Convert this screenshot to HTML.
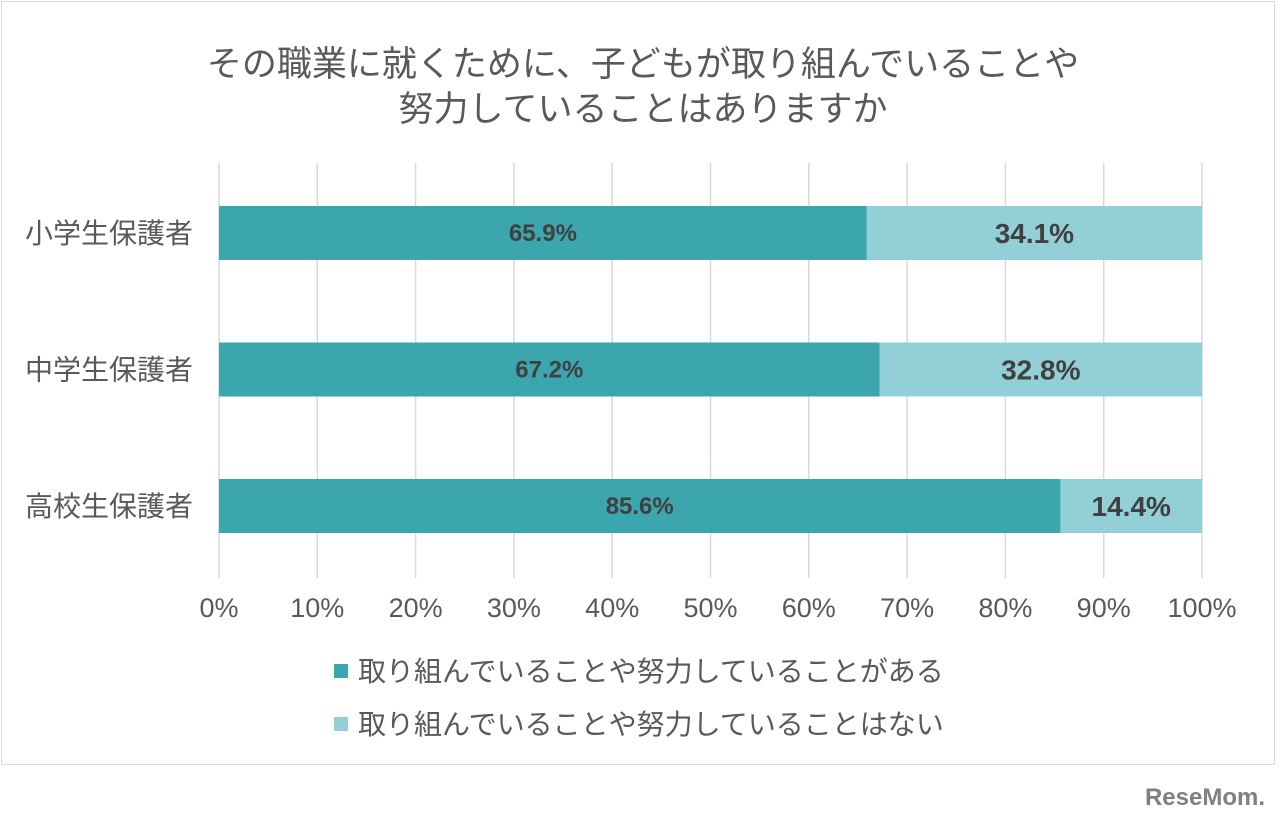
<!DOCTYPE html>
<html><head><meta charset="utf-8"><style>
body{margin:0;width:1280px;height:820px;background:#fff;font-family:"Liberation Sans","Noto Sans CJK JP",sans-serif;overflow:hidden;position:relative}
#frame{position:absolute;left:1px;top:1px;width:1274px;height:764px;border:1px solid #d9d9d9;box-sizing:border-box}
</style></head><body>
<div id="frame"></div>
<svg id="chart" width="1280" height="820" style="position:absolute;left:0;top:0">
<text x="643" y="76" text-anchor="middle" font-size="35" fill="#595959">その職業に就くために、子どもが取り組んでいることや</text>
<text x="643" y="121" text-anchor="middle" font-size="35" fill="#595959">努力していることはありますか</text>
<g id="grid"></g><g id="bars"></g><g id="axis"></g>
<rect x="334" y="664" width="14" height="14" fill="#3ba6ae"/>
<text x="358" y="681" font-size="28" fill="#595959">取り組んでいることや努力していることがある</text>
<rect x="334" y="717" width="14" height="14" fill="#92cfd6"/>
<text x="358" y="734" font-size="28" fill="#595959">取り組んでいることや努力していることはない</text>
<text x="1265" y="805" text-anchor="end" font-size="24" font-weight="bold" fill="#808080">ReseMom.</text>
</svg>
<script>
const categories=["小学生保護者","中学生保護者","高校生保護者"];
const yesValues=[65.9,67.2,85.6];
const noValues=[34.1,32.8,14.4];
const ticks=[0,10,20,30,40,50,60,70,80,90,100];
const NS="http://www.w3.org/2000/svg";
const x0=219,x1=1202;
const xs=v=>x0+(x1-x0)*v/100;
const yc=i=>233+i*136.5;
function mk(tag,attrs,parent,text){const e=document.createElementNS(NS,tag);for(const k in attrs)e.setAttribute(k,attrs[k]);if(text!==undefined)e.textContent=text;document.getElementById(parent).appendChild(e);return e;}
ticks.forEach(t=>{
 const l=mk('line',{x1:xs(t),x2:xs(t),y1:163,y2:578,stroke:'#d9d9d9','stroke-width':1.5},'grid');
 
 
 const tx=mk('text',{x:xs(t),y:617,'text-anchor':'middle','font-size':27,fill:'#595959'},'axis',t+'%');
 
 
});
categories.forEach((c,i)=>{
 const y=yc(i);
 const cl=mk('text',{x:193,y:y+10,'text-anchor':'end','font-size':28,fill:'#595959'},'axis',c);
 
 
 const a=mk('rect',{x:xs(0),y:y-27,width:xs(yesValues[i])-xs(0),height:54,fill:'#3ba6ae'},'bars');
 
 
 const b=mk('rect',{x:xs(yesValues[i]),y:y-27,width:xs(yesValues[i]+noValues[i])-xs(yesValues[i]),height:54,fill:'#92cfd6'},'bars');
 
 
 const la=mk('text',{x:(xs(0)+xs(yesValues[i]))/2,y:y+8,'text-anchor':'middle','font-size':24,'font-weight':'bold',fill:'#404040'},'bars',yesValues[i].toFixed(1)+'%');
 
 
 const lb=mk('text',{x:(xs(yesValues[i])+xs(yesValues[i]+noValues[i]))/2,y:y+10,'text-anchor':'middle','font-size':28,'font-weight':'bold',fill:'#404040'},'bars',noValues[i].toFixed(1)+'%');
 
 
});
</script>
</body></html>
